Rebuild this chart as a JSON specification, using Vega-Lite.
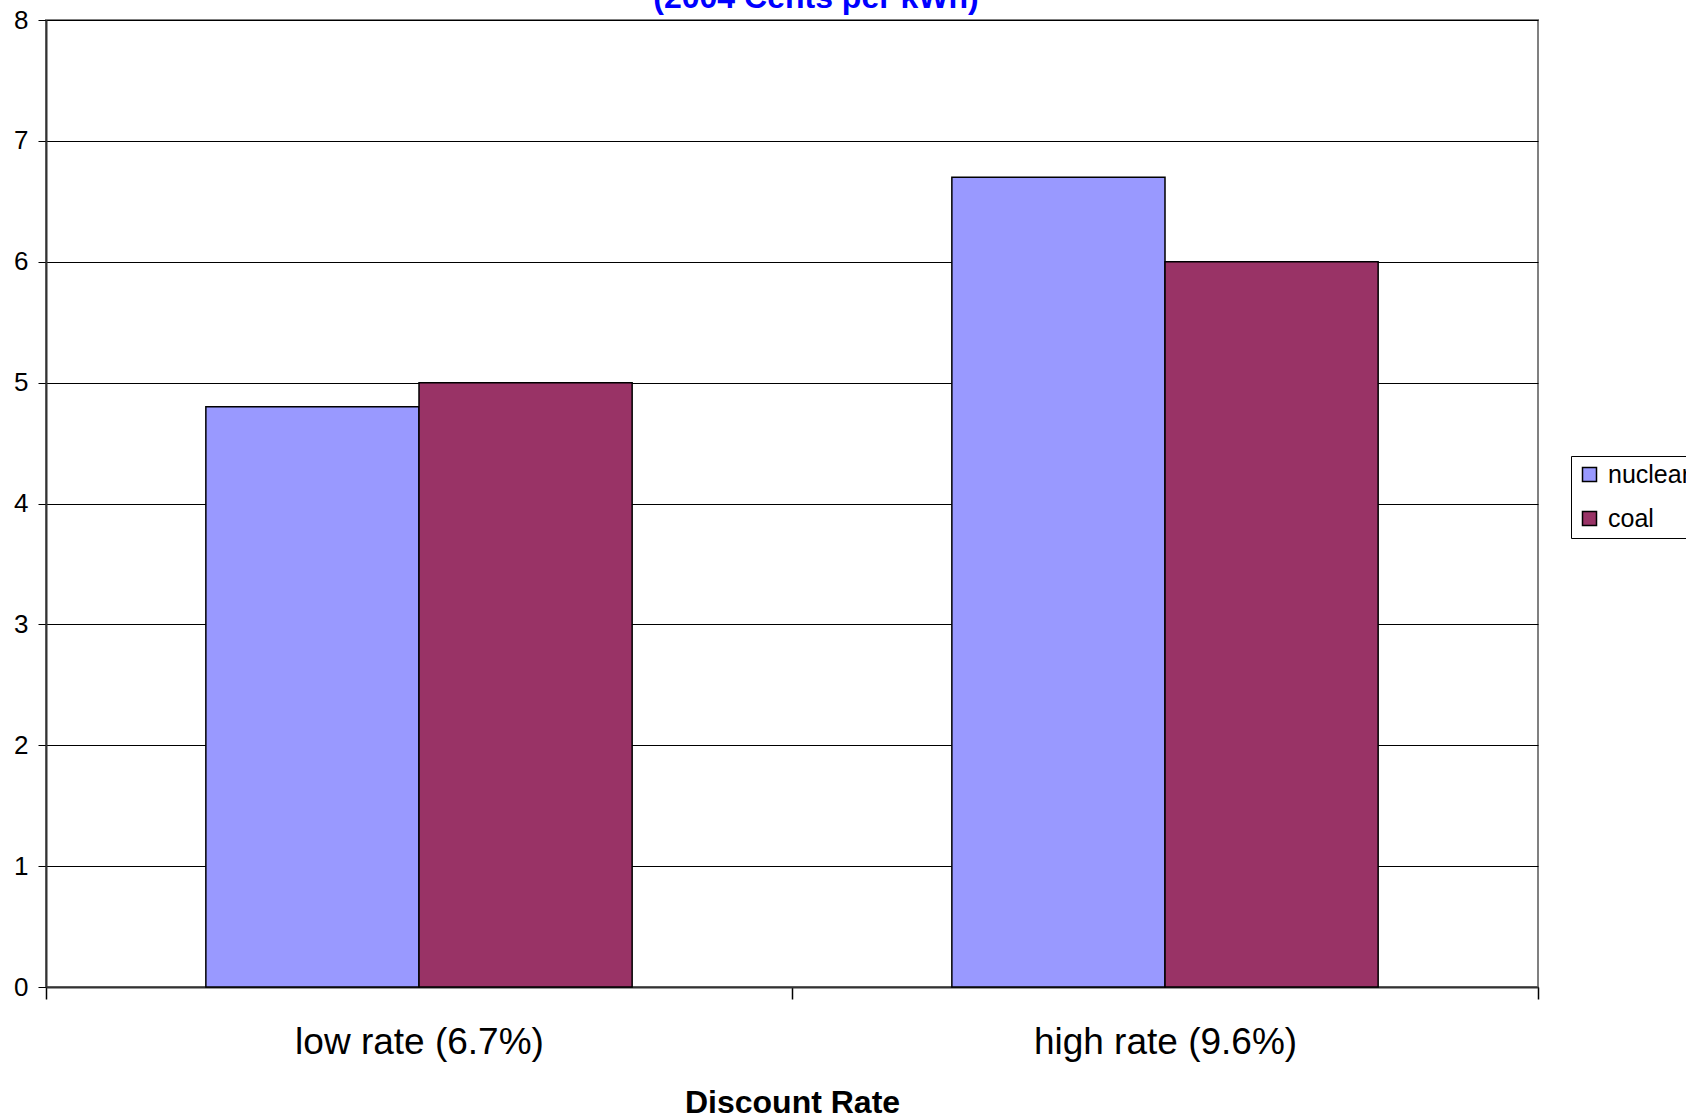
{
  "$schema": "https://vega.github.io/schema/vega-lite/v6.json",
  "width": 1492,
  "height": 967,
  "autosize": {"type": "none"},
  "padding": {"left": 46, "top": 20, "right": 148, "bottom": 130},
  "background": "white",
  "title": {
    "text": "(2004 Cents per kWh)",
    "color": "#0000FF",
    "font": "Liberation Sans",
    "fontSize": 32,
    "fontWeight": "bold",
    "anchor": "middle",
    "baseline": "alphabetic",
    "offset": -33,
    "dx": 24
  },
  "data": {
    "values": [
      {"rate": "low rate (6.7%)", "fuel": "nuclear", "cost": 4.8},
      {"rate": "low rate (6.7%)", "fuel": "coal", "cost": 5.0},
      {"rate": "high rate (9.6%)", "fuel": "nuclear", "cost": 6.7},
      {"rate": "high rate (9.6%)", "fuel": "coal", "cost": 6.0}
    ]
  },
  "mark": {"type": "bar", "stroke": "black", "strokeWidth": 1.5},
  "encoding": {
    "x": {
      "field": "rate",
      "type": "nominal",
      "sort": ["low rate (6.7%)", "high rate (9.6%)"],
      "scale": {"paddingInner": 0, "paddingOuter": 0},
      "title": "Discount Rate",
      "axis": {
        "labelAngle": 0,
        "labelFontSize": 37,
        "labelFont": "Liberation Sans",
        "labelColor": "black",
        "labelPadding": 25,
        "labelLimit": 0,
        "tickBand": "extent",
        "tickSize": 12,
        "tickColor": "black",
        "tickWidth": 1.5,
        "domainColor": "#333333",
        "domainWidth": 2,
        "titleFont": "Liberation Sans",
        "titleFontSize": 32,
        "titleFontWeight": "bold",
        "titleColor": "black",
        "titlePadding": 27,
        "grid": false
      }
    },
    "xOffset": {
      "field": "fuel",
      "type": "nominal",
      "sort": ["nuclear", "coal"],
      "scale": {"paddingInner": 0, "paddingOuter": 0.75}
    },
    "y": {
      "field": "cost",
      "type": "quantitative",
      "scale": {"domain": [0, 8], "nice": false},
      "title": null,
      "axis": {
        "values": [0, 1, 2, 3, 4, 5, 6, 7, 8],
        "labelFontSize": 26,
        "labelFont": "Liberation Sans",
        "labelColor": "black",
        "labelPadding": 10,
        "tickSize": 8,
        "tickColor": "black",
        "domainColor": "#333333",
        "domainWidth": 2,
        "grid": true,
        "gridColor": "black",
        "gridWidth": 1
      }
    },
    "color": {
      "field": "fuel",
      "type": "nominal",
      "sort": ["nuclear", "coal"],
      "scale": {"domain": ["nuclear", "coal"], "range": ["#9999FF", "#993366"]},
      "legend": {
        "title": null,
        "orient": "none",
        "legendX": 1525,
        "legendY": 436,
        "strokeColor": "black",
        "padding": 6,
        "symbolType": "square",
        "symbolSize": 196,
        "symbolStrokeColor": "black",
        "symbolStrokeWidth": 1.5,
        "symbolOpacity": 1,
        "labelFontSize": 25,
        "labelFont": "Liberation Sans",
        "labelColor": "black",
        "labelOffset": 6,
        "labelLimit": 0,
        "rowPadding": 18
      }
    }
  },
  "config": {
    "view": {"stroke": "#808080", "strokeWidth": 2},
    "axis": {"gridOpacity": 1}
  }
}
